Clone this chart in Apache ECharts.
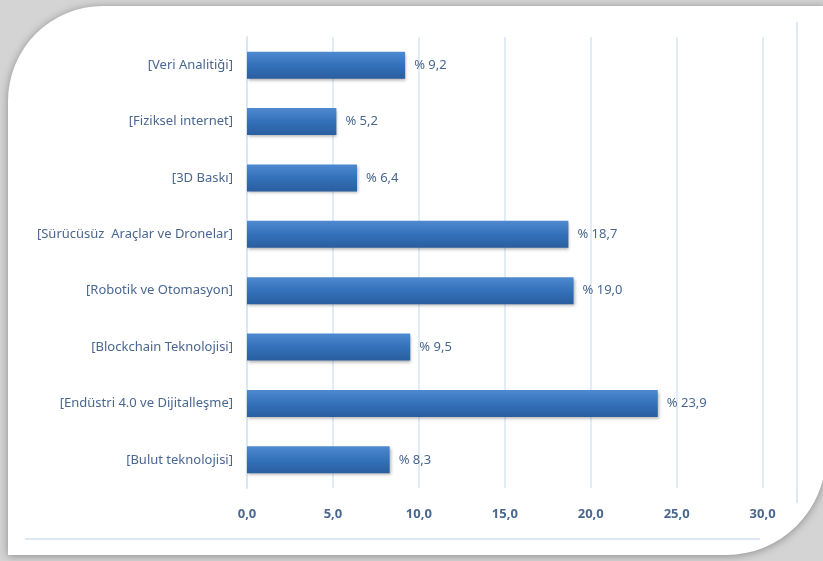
<!DOCTYPE html>
<html><head><meta charset="utf-8">
<script src="https://cdn.jsdelivr.net/npm/echarts@6/dist/echarts.min.js"></script>
<style>html,body{margin:0;padding:0;background:#d4d4d4;}#c{width:823px;height:561px;}</style>
</head><body><div id="c"></div>
<script>
const categories = ["[Veri Analitiği]","[Fiziksel internet]","[3D Baskı]","[Sürücüsüz  Araçlar ve Dronelar]","[Robotik ve Otomasyon]","[Blockchain Teknolojisi]","[Endüstri 4.0 ve Dijitalleşme]","[Bulut teknolojisi]"];
const values = [9.2, 5.2, 6.4, 18.7, 19.0, 9.5, 23.9, 8.3];
const xTicks = [0, 5, 10, 15, 20, 25, 30];

const chart = echarts.init(document.getElementById('c'));
const fmt = v => v.toFixed(1).replace('.', ',');
const font = 'Liberation Sans Narrow, Noto Sans, sans-serif';
chart.setOption({
  animation: false,
  backgroundColor: 'transparent',
  graphic: [
    { type: 'rect', z: -10, shape: { x: 8, y: 6, width: 818, height: 549, r: [95, 0, 100, 0] },
      style: { fill: '#ffffff', shadowBlur: 8, shadowColor: 'rgba(0,0,0,0.35)', shadowOffsetX: 0, shadowOffsetY: 1 } },
    { type: 'line', z: -5, shape: { x1: 25, y1: 539, x2: 760, y2: 539 }, style: { stroke: '#dbe8f5', lineWidth: 2 } },
    { type: 'line', z: -5, shape: { x1: 797, y1: 22, x2: 797, y2: 503 }, style: { stroke: '#dde9f6', lineWidth: 2 } }
  ],
  grid: { left: 247, right: 26, top: 37, bottom: 73, containLabel: false },
  xAxis: {
    type: 'value', min: 0, max: 32, interval: 5,
    axisLine: { show: false }, axisTick: { show: false },
    splitLine: { lineStyle: { color: '#e0ecf8', width: 2 } },
    axisLabel: { margin: 20, color: '#4a6790', fontSize: 13, fontWeight: 'bold', fontFamily: font,
      formatter: v => xTicks.includes(v) ? fmt(v) : '' }
  },
  yAxis: {
    type: 'category', data: categories, inverse: true,
    axisLine: { show: true, lineStyle: { color: '#d8e7f5', width: 2 } },
    axisTick: { show: false },
    axisLabel: { margin: 14, color: '#4a6790', fontSize: 13, fontFamily: font }
  },
  series: [{
    type: 'bar', data: values, barWidth: '48%',
    itemStyle: {
      color: new echarts.graphic.LinearGradient(0, 0, 0, 1, [
        { offset: 0, color: '#4f8ad0' }, { offset: 0.5, color: '#3371ba' }, { offset: 1, color: '#2a5e9f' }
      ]),
      shadowBlur: 3, shadowColor: 'rgba(0,0,0,0.3)', shadowOffsetY: 2, shadowOffsetX: 1
    },
    label: { show: true, position: 'right', distance: 9, color: '#4a6790', fontSize: 13,
      fontFamily: font, formatter: p => '% ' + fmt(p.value) }
  }]
});
</script></body></html>
